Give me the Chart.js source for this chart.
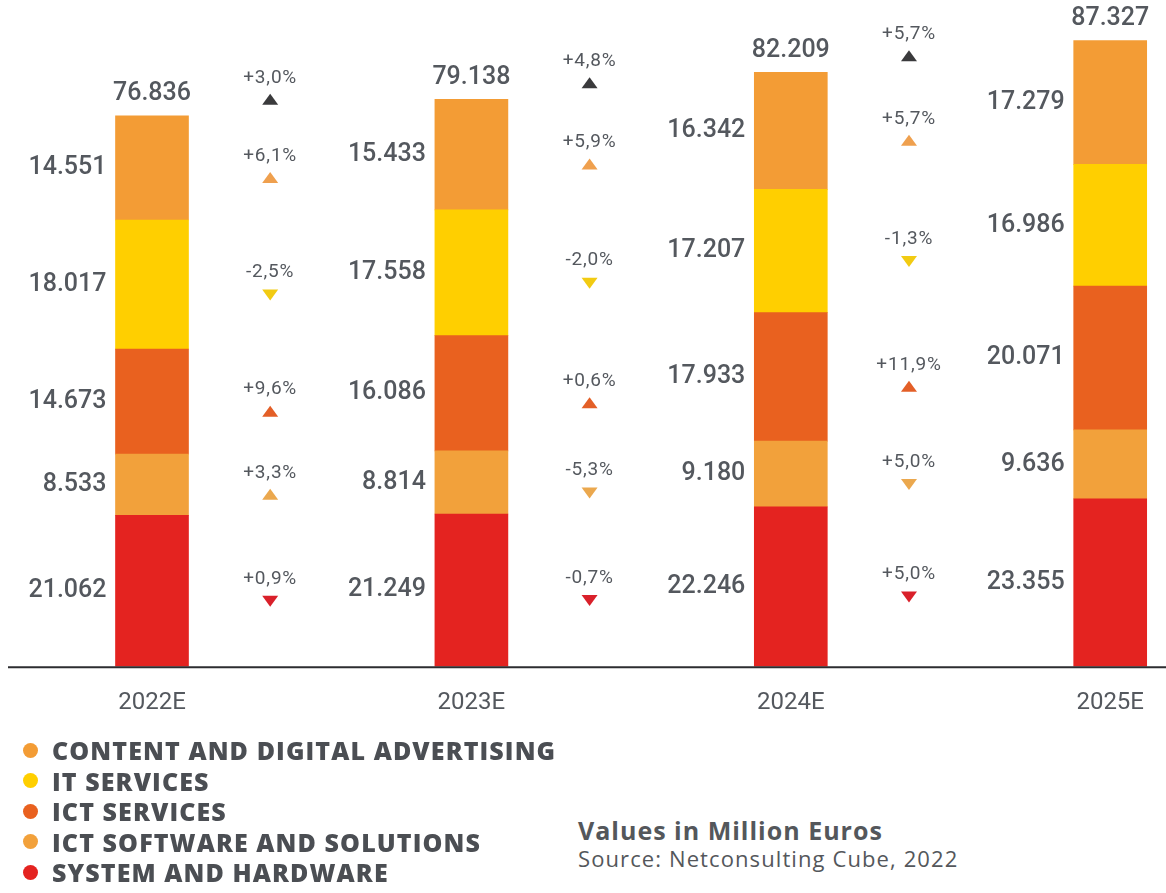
<!DOCTYPE html>
<html>
<head>
<meta charset="utf-8">
<script src="https://cdn.jsdelivr.net/npm/chart.js@4.4.0/dist/chart.umd.min.js"></script>
<style>
    body { margin: 0; background: #fff; }
    .contenitore { position: relative; width: 1166px; height: 893px; overflow: hidden; }
    #grafico { position: absolute; left: 0; top: 0; }
    .legenda { position: absolute; left: 23px; top: 735px; list-style: none; margin: 0; padding: 0;
        font-family: "Open Sans", sans-serif; font-weight: 800; font-size: 25px; letter-spacing: 1.1px; color: #4b4e53; }
    .legenda li { height: 30.5px; display: flex; align-items: center; }
    .pallino { width: 15px; height: 15px; border-radius: 50%; margin-right: 14px; flex: none; }
    .nota { position: absolute; left: 578px; top: 815px; font-family: "Open Sans", sans-serif; color: #54575b; }
    .nota b { display: block; font-size: 25px; font-weight: 700; letter-spacing: 1px; line-height: 30px; }
    .nota span { display: block; font-size: 22px; letter-spacing: 1.1px; line-height: 26px; }
</style>
</head>
<body>
<div class="contenitore">
    <canvas id="grafico" width="1166" height="747"></canvas>
    <ul class="legenda" id="legenda"></ul>
    <div class="nota"><b>Values in Million Euros</b><span>Source: Netconsulting Cube, 2022</span></div>
</div>
<script>
const anni = ['2022E', '2023E', '2024E', '2025E'];

// valori in milioni di euro, dal basso verso l'alto
const hardware = [21062, 21249, 22246, 23355];
const software = [8533, 8814, 9180, 9636];
const serviziICT = [14673, 16086, 17933, 20071];
const serviziIT = [18017, 17558, 17207, 16986];
const contenuti = [14551, 15433, 16342, 17279];
const totali = [76836, 79138, 82209, 87327];

// variazioni anno su anno (%) e direzione della freccia
const crescitaHardware = [0.9, -0.7, 5.0];
const crescitaSoftware = [3.3, -5.3, 5.0];
const crescitaServiziICT = [9.6, 0.6, 11.9];
const crescitaServiziIT = [-2.5, -2.0, -1.3];
const crescitaContenuti = [6.1, 5.9, 5.7];
const crescitaTotale = [3.0, 4.8, 5.7];

const frecceHardware = ['giu', 'giu', 'giu'];
const frecceSoftware = ['su', 'giu', 'giu'];
const frecceServiziICT = ['su', 'su', 'su'];
const frecceServiziIT = ['giu', 'giu', 'giu'];
const frecceContenuti = ['su', 'su', 'su'];
const frecceTotale = ['su', 'su', 'su'];

const grigioTesto = '#54585e';

function formatta(n) {
    return String(n).replace(/\B(?=(\d{3})+(?!\d))/g, '.');
}

function formattaPerc(v) {
    return (v >= 0 ? '+' : '-') + Math.abs(v).toFixed(1).replace('.', ',') + '%';
}

function disegnaCrescita(ctx, x, y, valore, freccia, colore) {
    ctx.font = '19px Roboto';
    ctx.letterSpacing = '0.8px';
    ctx.textAlign = 'center';
    ctx.textBaseline = 'middle';
    ctx.fillStyle = grigioTesto;
    ctx.fillText(formattaPerc(valore), x, y);
    ctx.letterSpacing = '0px';

    const ty = y + 22;
    ctx.fillStyle = colore;
    ctx.beginPath();
    if (freccia === 'su') {
        ctx.moveTo(x - 8, ty + 5);
        ctx.lineTo(x + 8, ty + 5);
        ctx.lineTo(x, ty - 6);
    } else {
        ctx.moveTo(x - 8, ty - 5);
        ctx.lineTo(x + 8, ty - 5);
        ctx.lineTo(x, ty + 6);
    }
    ctx.closePath();
    ctx.fill();
}

const etichette = {
    id: 'etichette',
    afterDatasetsDraw(chart) {
        const ctx = chart.ctx;
        const area = chart.chartArea;
        ctx.save();

        // linea di base su tutta la larghezza
        ctx.strokeStyle = '#2c2d30';
        ctx.lineWidth = 2;
        ctx.beginPath();
        ctx.moveTo(8, area.bottom + 1);
        ctx.lineTo(chart.width, area.bottom + 1);
        ctx.stroke();

        chart.data.datasets.forEach((ds, i) => {
            const meta = chart.getDatasetMeta(i);
            meta.data.forEach((bar, j) => {
                const centro = (bar.y + bar.base) / 2;
                ctx.font = '500 25px Roboto';
                ctx.textAlign = 'right';
                ctx.textBaseline = 'middle';
                ctx.fillStyle = grigioTesto;
                ctx.fillText(formatta(ds.data[j]), bar.x - bar.width / 2 - 9, centro);

                if (j < ds.crescite.length) {
                    const prossima = meta.data[j + 1];
                    const xc = bar.x + (prossima.x - bar.x) * 0.37;
                    disegnaCrescita(ctx, xc, centro - 12, ds.crescite[j], ds.frecce[j], ds.coloreFreccia);
                }
            });
        });

        // totali sopra le colonne
        const cima = chart.getDatasetMeta(chart.data.datasets.length - 1);
        cima.data.forEach((bar, j) => {
            ctx.font = '500 25px Roboto';
            ctx.textAlign = 'center';
            ctx.textBaseline = 'middle';
            ctx.fillStyle = grigioTesto;
            ctx.fillText(formatta(totali[j]), bar.x, bar.y - 22);
            if (j < crescitaTotale.length) {
                const xc = bar.x + (cima.data[j + 1].x - bar.x) * 0.37;
                disegnaCrescita(ctx, xc, bar.y - 38, crescitaTotale[j], frecceTotale[j], '#3a3a3c');
            }
        });
        ctx.restore();
    }
};

const datiGrafico = {
    labels: anni,
    datasets: [
        { label: 'SYSTEM AND HARDWARE', data: hardware, backgroundColor: '#E42320',
          crescite: crescitaHardware, frecce: frecceHardware, coloreFreccia: '#D9202A' },
        { label: 'ICT SOFTWARE AND SOLUTIONS', data: software, backgroundColor: '#F2A13B',
          crescite: crescitaSoftware, frecce: frecceSoftware, coloreFreccia: '#EBA84E' },
        { label: 'ICT SERVICES', data: serviziICT, backgroundColor: '#E9611F',
          crescite: crescitaServiziICT, frecce: frecceServiziICT, coloreFreccia: '#E35F27' },
        { label: 'IT SERVICES', data: serviziIT, backgroundColor: '#FFCF00',
          crescite: crescitaServiziIT, frecce: frecceServiziIT, coloreFreccia: '#F2CB12' },
        { label: 'CONTENT AND DIGITAL ADVERTISING', data: contenuti, backgroundColor: '#F39C35',
          crescite: crescitaContenuti, frecce: frecceContenuti, coloreFreccia: '#EFA04E' }
    ]
};

const config = {
    type: 'bar',
    data: datiGrafico,
    options: {
        responsive: false,
        animation: false,
        barThickness: 73,
        layout: { padding: { left: 152, right: 55, top: 0, bottom: 8 } },
        plugins: {
            legend: { display: false },
            tooltip: { enabled: false }
        },
        scales: {
            x: {
                stacked: true,
                offset: false,
                grid: { display: false, drawTicks: false },
                border: { display: false },
                ticks: { color: grigioTesto, font: { family: 'Roboto', size: 24 }, padding: 22 }
            },
            y: {
                stacked: true,
                display: false,
                min: 0,
                max: 93000
            }
        },
        datasets: { bar: { clip: false } }
    },
    plugins: [etichette]
};

const grafico = new Chart(document.getElementById('grafico').getContext('2d'), config);

// legenda verticale, dall'ultima serie alla prima
const legenda = document.getElementById('legenda');
datiGrafico.datasets.slice().reverse().forEach(ds => {
    const li = document.createElement('li');
    li.innerHTML = `<span class="pallino" style="background:${ds.backgroundColor}"></span>${ds.label}`;
    legenda.appendChild(li);
});
</script>
</body>
</html>
